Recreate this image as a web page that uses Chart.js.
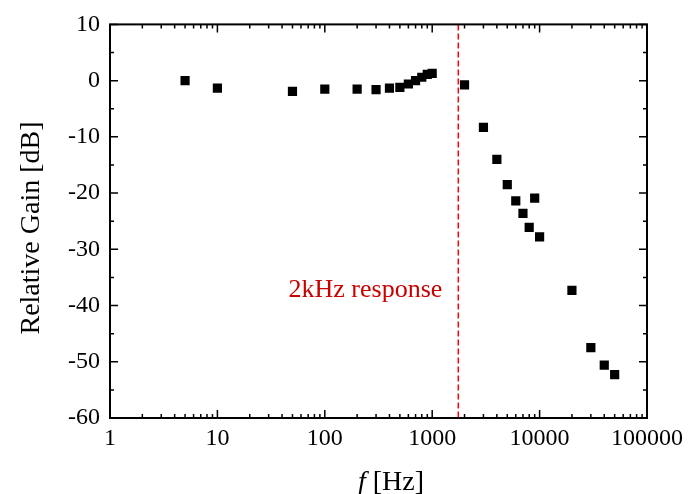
<!DOCTYPE html>
<html>
<head>
<meta charset="utf-8">
<script src="https://cdn.jsdelivr.net/npm/chart.js@4"></script>
<style>
  html, body { margin: 0; padding: 0; background: #fff; }
  #wrap { width: 689px; height: 494px; }
</style>
</head>
<body>
<div id="wrap"><canvas id="gainChart"></canvas></div>
<script>
const freqs = [5, 10, 50, 100, 200, 300, 400, 500, 600, 700, 800, 900, 1000,
    2000, 3000, 4000, 5000, 6000, 7000, 8000, 9000, 10000, 20000, 30000, 40000, 50000];
const gains = [0, -1.35, -1.9, -1.5, -1.5, -1.6, -1.35, -1.2, -0.6, 0, 0.6, 1.1, 1.3,
    -0.77, -8.3, -14.0, -18.5, -21.4, -23.6, -26.1, -20.9, -27.8, -37.3, -47.5, -50.6, -52.3];
const xTicks = [1, 10, 100, 1000, 10000, 100000];
const yTicks = [-60, -50, -40, -30, -20, -10, 0, 10];
const cutoff = 1750;
const cutoffLabel = '2kHz response';
const cutoffLabelY = -38.5;

const serif = 'Liberation Serif';

// box with inward ticks on all four sides, plus titles and the red label
const framePlugin = {
    id: 'frame',
    afterDraw(chart) {
        const ctx = chart.ctx;
        const a = chart.chartArea;
        const xs = chart.scales.x;
        const ys = chart.scales.y;
        ctx.save();
        ctx.strokeStyle = '#000';
        ctx.lineWidth = 2;
        ctx.strokeRect(a.left, a.top, a.right - a.left, a.bottom - a.top);

        ctx.lineWidth = 1.5;
        ctx.beginPath();
        for (let d = 1; d < 100000; d *= 10) {
            for (let m = 1; m < 10; m++) {
                const v = d * m;
                const px = xs.getPixelForValue(v);
                const len = m === 1 ? 8 : 4;
                ctx.moveTo(px, a.bottom); ctx.lineTo(px, a.bottom - len);
                ctx.moveTo(px, a.top); ctx.lineTo(px, a.top + len);
            }
        }
        for (let v = -60; v <= 10; v += 5) {
            const py = ys.getPixelForValue(v);
            const len = v % 10 === 0 ? 8 : 4;
            ctx.moveTo(a.left, py); ctx.lineTo(a.left + len, py);
            ctx.moveTo(a.right, py); ctx.lineTo(a.right - len, py);
        }
        ctx.stroke();

        // red label left of the cutoff line
        ctx.fillStyle = '#c80000';
        ctx.font = '26px "' + serif + '"';
        ctx.textAlign = 'right';
        ctx.textBaseline = 'alphabetic';
        ctx.fillText(cutoffLabel, xs.getPixelForValue(cutoff) - 16, ys.getPixelForValue(cutoffLabelY));

        // x title with italic f
        ctx.fillStyle = '#000';
        ctx.textAlign = 'left';
        ctx.font = 'italic 28px "' + serif + '"';
        const fW = ctx.measureText('f').width;
        ctx.font = '28px "' + serif + '"';
        const restW = ctx.measureText(' [Hz]').width;
        const x0 = 391 - (fW + restW) / 2;
        ctx.font = 'italic 28px "' + serif + '"';
        ctx.fillText('f', x0, 490);
        ctx.font = '28px "' + serif + '"';
        ctx.fillText(' [Hz]', x0 + fW, 490);

        // y title
        ctx.translate(39, 228);
        ctx.rotate(-Math.PI / 2);
        ctx.textAlign = 'center';
        ctx.fillText('Relative Gain [dB]', 0, 0);
        ctx.restore();
    }
};

const data = {
    datasets: [{
        label: 'Relative Gain',
        data: freqs.map((f, i) => ({ x: f, y: gains[i] })),
        pointStyle: 'rect',
        pointRadius: 6.5,
        pointHoverRadius: 6.5,
        backgroundColor: '#000',
        borderColor: '#000',
        borderWidth: 0,
    }, {
        label: 'cutoff',
        data: [{ x: cutoff, y: 10 }, { x: cutoff, y: -60 }],
        showLine: true,
        borderColor: '#ff0000',
        borderWidth: 1.5,
        borderDash: [6, 3],
        pointRadius: 0,
    }]
};

const config = {
    type: 'scatter',
    data: data,
    options: {
        animation: false,
        responsive: true,
        maintainAspectRatio: false,
        layout: {
            padding: { top: 23, right: 41, left: 0, bottom: 0 },
        },
        plugins: {
            legend: { display: false },
            tooltip: { enabled: false },
        },
        scales: {
            x: {
                type: 'logarithmic',
                min: 1,
                max: 100000,
                afterBuildTicks: (s) => { s.ticks = xTicks.map(v => ({ value: v })); },
                afterFit: (s) => { s.height = 76; },
                grid: { display: false, drawTicks: false },
                border: { display: false },
                ticks: {
                    autoSkip: false,
                    maxRotation: 0,
                    padding: 6,
                    color: '#000',
                    font: { family: serif, size: 24 },
                    callback: (v) => String(v),
                },
            },
            y: {
                min: -60,
                max: 10,
                afterBuildTicks: (s) => { s.ticks = yTicks.map(v => ({ value: v })); },
                afterFit: (s) => { s.width = 110; },
                grid: { display: false, drawTicks: false },
                border: { display: false },
                ticks: {
                    padding: 10,
                    color: '#000',
                    font: { family: serif, size: 24 },
                },
            },
        },
    },
    plugins: [framePlugin],
};

const gainChart = new Chart(
    document.getElementById('gainChart'),
    config
);
</script>
</body>
</html>
